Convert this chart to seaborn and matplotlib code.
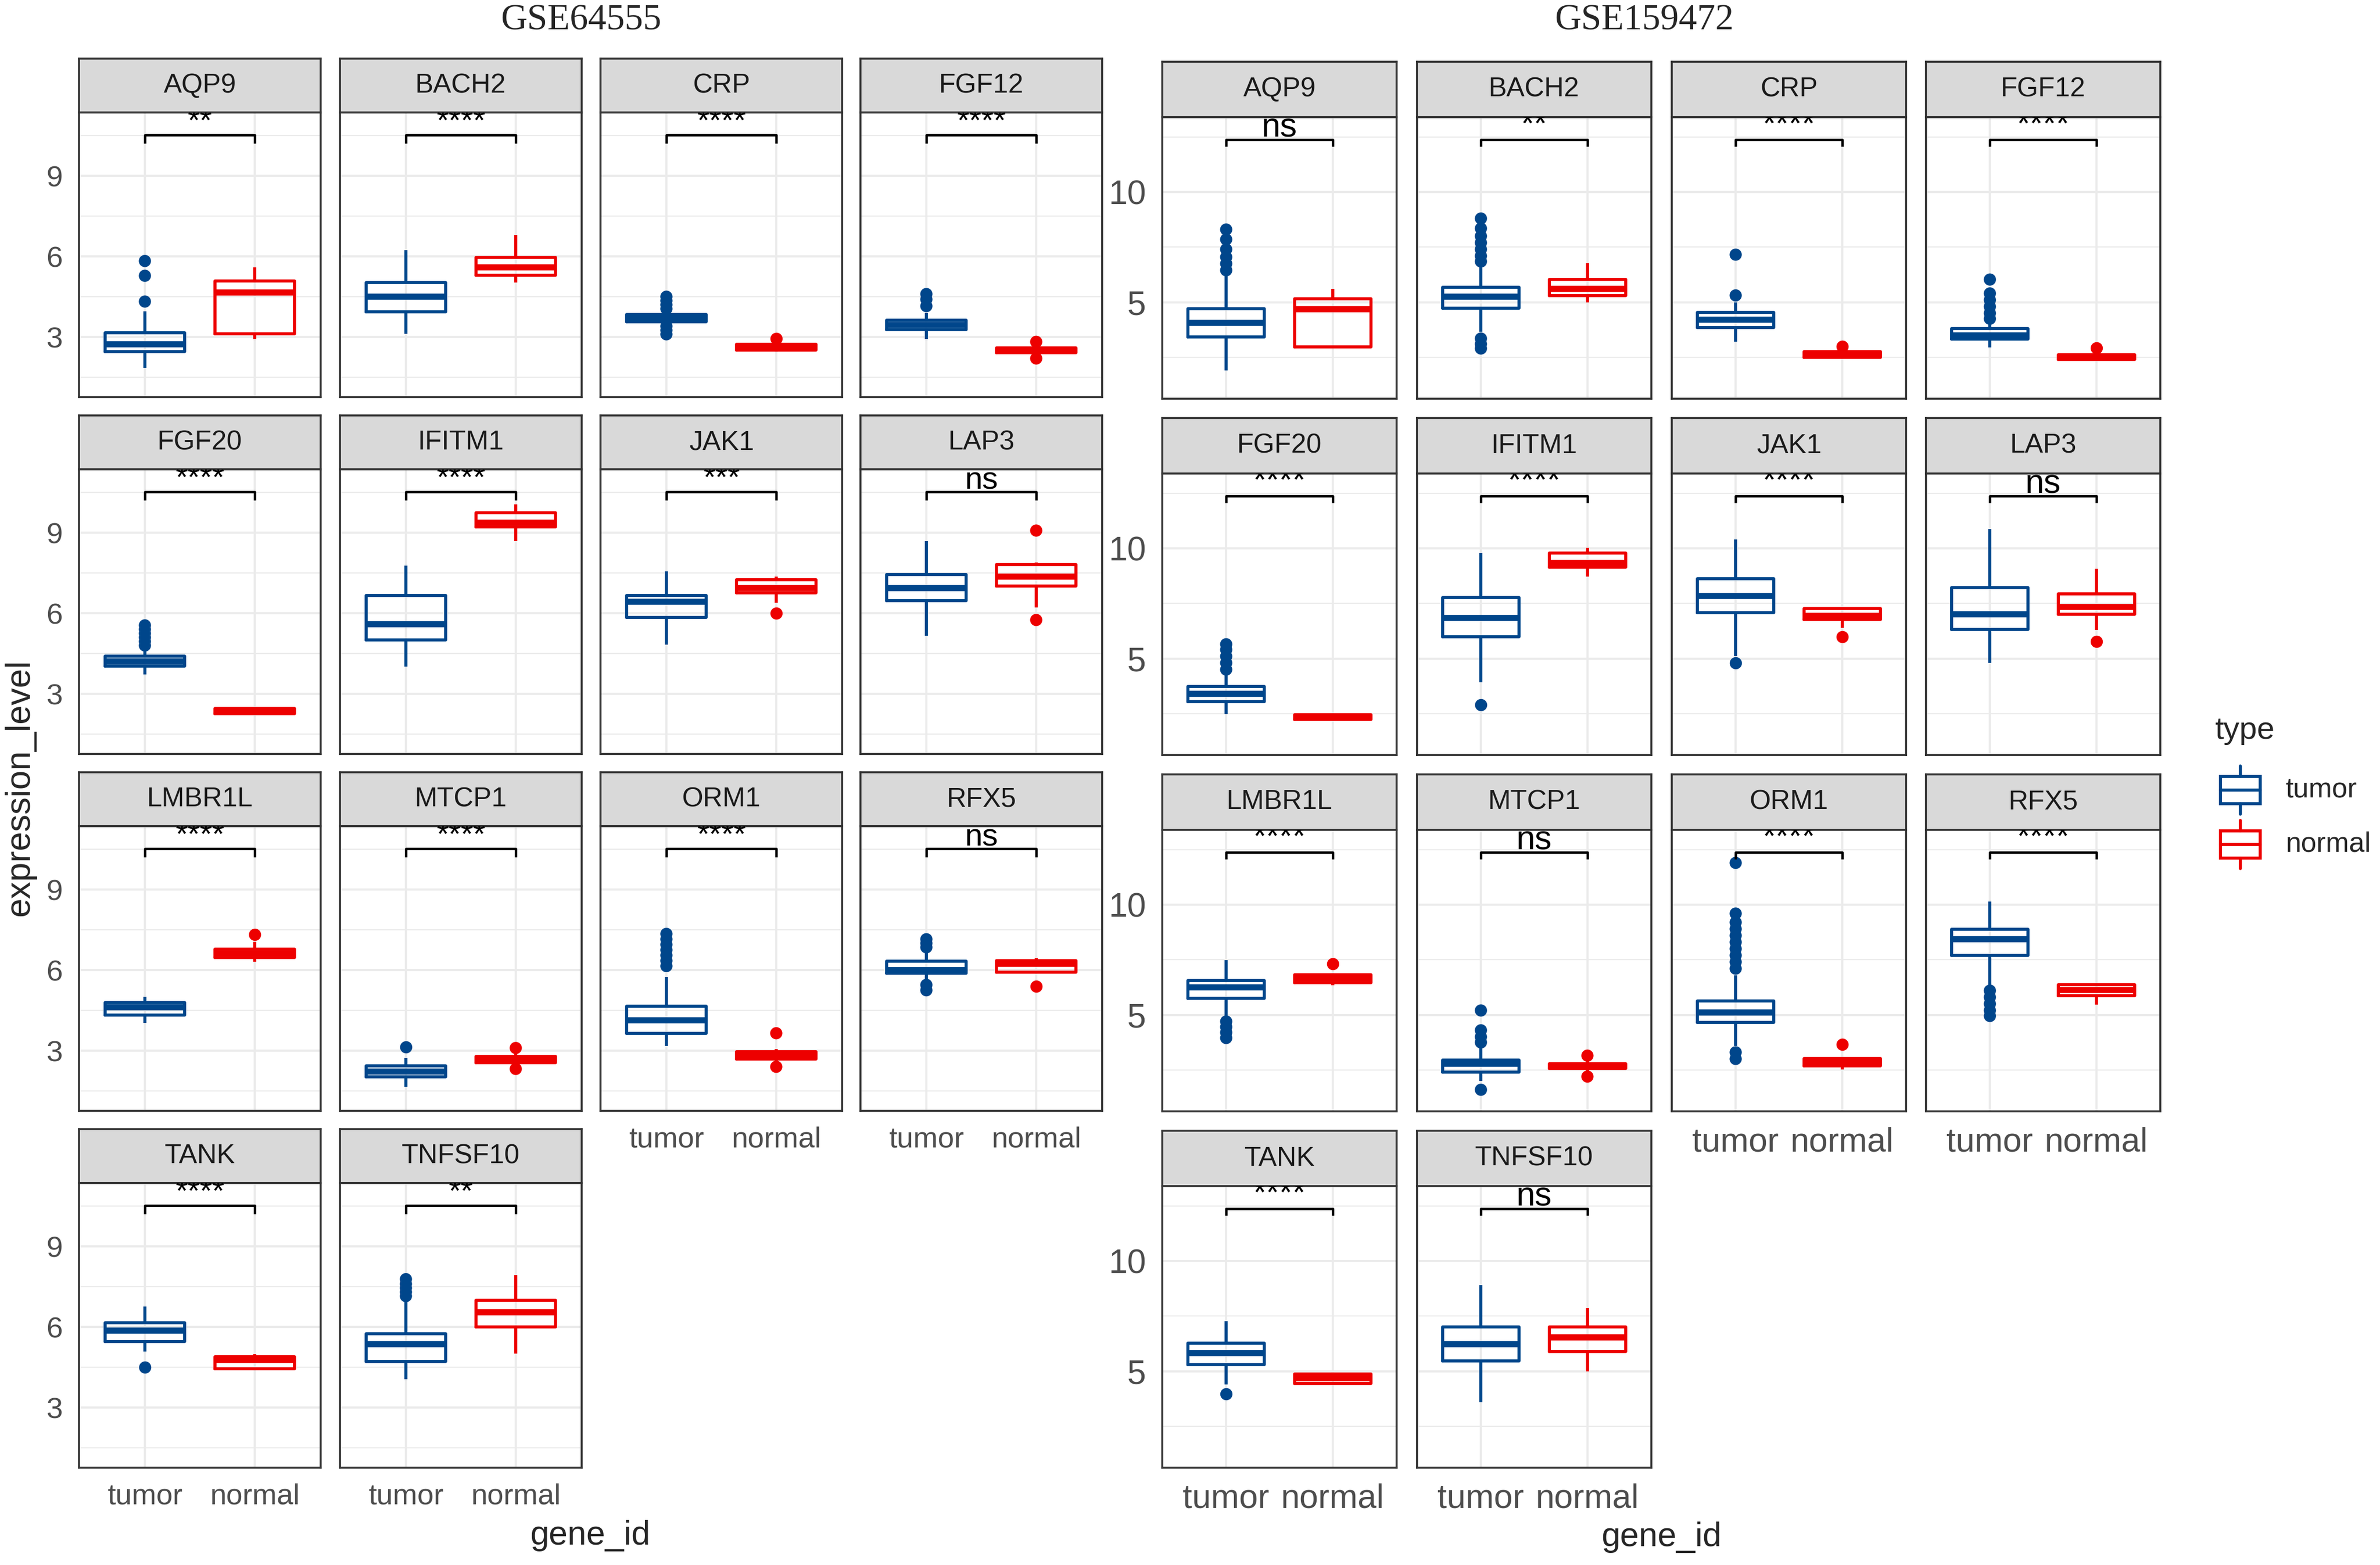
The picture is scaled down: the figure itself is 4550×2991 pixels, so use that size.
import numpy as np
import pandas as pd
import matplotlib.pyplot as plt
import matplotlib.transforms as mtransforms
import seaborn as sns
from matplotlib.patches import Rectangle

# --- data ---
GENES = ['AQP9', 'BACH2', 'CRP', 'FGF12', 'FGF20', 'IFITM1', 'JAK1', 'LAP3',
         'LMBR1L', 'MTCP1', 'ORM1', 'RFX5', 'TANK', 'TNFSF10']
GROUPS = ['tumor', 'normal']
PALETTE = {'tumor': '#00468B', 'normal': '#ED0000'}

# each row: whisker low, Q1, median, Q3, whisker high
gse64555_tumor = [
    [1.85, 2.45, 2.72, 3.15, 3.95],
    [3.12, 3.93, 4.50, 5.02, 6.24],
    [3.45, 3.56, 3.70, 3.84, 3.95],
    [2.92, 3.28, 3.45, 3.63, 3.90],
    [3.73, 4.03, 4.21, 4.41, 4.65],
    [4.01, 5.00, 5.59, 6.66, 7.78],
    [4.83, 5.84, 6.43, 6.66, 7.57],
    [5.17, 6.47, 6.93, 7.44, 8.70],
    [4.03, 4.33, 4.62, 4.79, 5.00],
    [1.65, 2.02, 2.22, 2.43, 2.72],
    [3.17, 3.65, 4.13, 4.66, 5.75],
    [5.60, 5.88, 6.01, 6.33, 6.70],
    [5.08, 5.45, 5.87, 6.16, 6.77],
    [4.05, 4.72, 5.35, 5.75, 6.98],
]
gse64555_normal = [
    [2.92, 3.12, 4.66, 5.08, 5.60],
    [5.02, 5.30, 5.60, 5.97, 6.80],
    [2.45, 2.52, 2.62, 2.72, 2.80],
    [2.32, 2.42, 2.50, 2.60, 2.70],
    [2.22, 2.26, 2.36, 2.46, 2.50],
    [8.70, 9.21, 9.38, 9.74, 10.05],
    [6.39, 6.77, 6.93, 7.25, 7.36],
    [6.22, 7.02, 7.36, 7.82, 7.90],
    [6.31, 6.47, 6.62, 6.79, 7.05],
    [2.45, 2.56, 2.69, 2.78, 2.95],
    [2.55, 2.69, 2.83, 2.97, 3.05],
    [5.88, 5.92, 6.24, 6.36, 6.44],
    [4.40, 4.45, 4.77, 4.89, 4.98],
    [5.00, 6.00, 6.54, 7.00, 7.93],
]
gse64555_tumor_out = [
    [4.32, 5.28, 5.83], [], [4.50, 4.35, 4.20, 4.05, 3.40, 3.25, 3.10],
    [4.60, 4.40, 4.15], [4.80, 4.95, 5.10, 5.25, 5.40, 5.55], [], [], [],
    [], [3.13], [6.15, 6.35, 6.55, 6.75, 6.95, 7.15, 7.35],
    [6.85, 7.00, 7.15, 5.45, 5.25], [4.51], [7.15, 7.30, 7.45, 7.60, 7.78],
]
gse64555_normal_out = [
    [], [], [2.95], [2.82, 2.20], [], [], [6.00], [9.08, 5.75],
    [7.32], [3.10, 2.32], [3.65, 2.40], [5.40], [], [],
]
gse64555_signif = ['**', '****', '****', '****', '****', '****', '***', 'ns',
                   '****', '****', '****', 'ns', '****', '**']

gse159472_tumor = [
    [1.91, 3.43, 4.07, 4.71, 6.19],
    [3.66, 4.72, 5.26, 5.67, 6.65],
    [3.20, 3.85, 4.20, 4.54, 5.00],
    [2.94, 3.33, 3.50, 3.81, 4.07],
    [2.47, 3.04, 3.40, 3.74, 4.28],
    [3.92, 5.98, 6.84, 7.76, 9.79],
    [5.10, 7.09, 7.84, 8.63, 10.41],
    [4.79, 6.32, 7.01, 8.22, 10.88],
    [4.93, 5.76, 6.26, 6.57, 7.48],
    [2.00, 2.40, 2.77, 2.94, 3.49],
    [3.60, 4.66, 5.11, 5.64, 6.79],
    [6.30, 7.69, 8.44, 8.89, 10.14],
    [4.40, 5.31, 5.82, 6.28, 7.26],
    [3.59, 5.46, 6.23, 7.00, 8.90],
]
gse159472_normal = [
    [2.94, 2.97, 4.69, 5.15, 5.60],
    [5.00, 5.29, 5.62, 6.03, 6.77],
    [2.45, 2.50, 2.63, 2.75, 2.82],
    [2.35, 2.40, 2.50, 2.62, 2.72],
    [2.20, 2.24, 2.35, 2.46, 2.50],
    [8.73, 9.15, 9.33, 9.79, 10.03],
    [6.39, 6.77, 6.94, 7.27, 7.30],
    [6.29, 7.01, 7.35, 7.94, 9.07],
    [6.34, 6.47, 6.66, 6.81, 6.90],
    [2.45, 2.56, 2.67, 2.79, 2.95],
    [2.53, 2.69, 2.85, 3.01, 3.10],
    [5.46, 5.88, 6.13, 6.36, 6.41],
    [4.40, 4.44, 4.69, 4.87, 4.95],
    [5.00, 5.90, 6.54, 7.00, 7.87],
]
gse159472_tumor_out = [
    [6.45, 6.75, 7.05, 7.40, 7.85, 8.30],
    [6.85, 7.10, 7.40, 7.70, 8.00, 8.35, 8.80, 3.35, 3.10, 2.90],
    [5.31, 7.16],
    [4.25, 4.50, 4.80, 5.10, 5.40, 6.03],
    [4.50, 4.80, 5.10, 5.40, 5.65],
    [2.89], [4.79], [],
    [4.70, 4.45, 4.20, 3.95],
    [3.75, 4.00, 4.30, 5.20, 1.60],
    [7.10, 7.40, 7.70, 8.00, 8.30, 8.60, 8.90, 9.20, 9.60, 11.90, 3.30, 3.00],
    [6.10, 5.80, 5.50, 5.20, 4.95],
    [3.97], [],
]
gse159472_normal_out = [
    [], [], [3.00], [2.92], [], [], [5.98], [5.77],
    [7.32], [3.15, 2.20], [3.65], [], [], [],
]
gse159472_signif = ['ns', '**', '****', '****', '****', '****', '****', 'ns',
                    '****', 'ns', '****', '****', '****', 'ns']

# --- layout (pixels of the 4550x2991 canvas) ---
W, H = 4550, 2991
DPI = 300

LEFT = dict(cols=[151, 650, 1148, 1645], width=462, row0=112, pitch=682,
            strip_h=103, panel_h=544, ylim=(0.76, 11.36), major=[3, 6, 9],
            minor=[1.5, 4.5, 7.5, 10.5], bracket=10.52, tip=0.30,
            tick_size=13.5, sig_size=14.5)
RIGHT = dict(cols=[2222, 2709, 3196, 3682], width=448, row0=118, pitch=681,
             strip_h=106, panel_h=538, ylim=(0.62, 13.4), major=[5, 10],
             minor=[2.5, 7.5, 12.5], bracket=12.39, tip=0.33,
             tick_size=15.5, sig_size=15.5)

DARK = '#333333'
GRID = '#EBEBEB'


def px_axes(fig, x0, y0, w, h):
    return fig.add_axes([x0 / W, 1 - (y0 + h) / H, w / W, h / H])


def draw_dataset(fig, cfg, tumor, normal, tumor_out, normal_out, signif):
    n = len(GENES)
    for i, gene in enumerate(GENES):
        r, c = divmod(i, 4)
        x0 = cfg['cols'][c]
        y0 = cfg['row0'] + r * cfg['pitch']

        # strip
        ax_s = px_axes(fig, x0, y0, cfg['width'], cfg['strip_h'])
        ax_s.set_facecolor('#D9D9D9')
        ax_s.set_xticks([])
        ax_s.set_yticks([])
        for sp in ax_s.spines.values():
            sp.set_color(DARK)
            sp.set_linewidth(0.9)
        ax_s.text(0.5, 0.5, gene, transform=ax_s.transAxes, ha='center',
                  va='center', fontsize=12.5, color='#1A1A1A')

        # panel
        ax = px_axes(fig, x0, y0 + cfg['strip_h'], cfg['width'], cfg['panel_h'])
        df = pd.DataFrame({'type': ['tumor'] * 5 + ['normal'] * 5,
                           'value': tumor[i] + normal[i]})
        sns.boxplot(data=df, x='type', y='value', hue='type', order=GROUPS,
                    hue_order=GROUPS, palette=PALETTE, fill=False,
                    whis=(0, 100), width=0.72, linewidth=1.4, showcaps=False,
                    showfliers=False, medianprops={'linewidth': 2.8},
                    legend=False, ax=ax)
        out = pd.DataFrame({'type': ['tumor'] * len(tumor_out[i]) + ['normal'] * len(normal_out[i]),
                            'value': tumor_out[i] + normal_out[i]})
        if len(out):
            sns.stripplot(data=out, x='type', y='value', hue='type', order=GROUPS,
                          hue_order=GROUPS, palette=PALETTE, jitter=False,
                          size=5.6, linewidth=0, legend=False, ax=ax, zorder=3)

        # significance bracket (labels sit on the bracket and get clipped by the panel)
        yb, tip = cfg['bracket'], cfg['tip']
        ax.plot([0, 0, 1, 1], [yb - tip, yb, yb, yb - tip], color='black',
                lw=1.1, solid_capstyle='butt', zorder=4)
        lift_pt = 1.3 if signif[i] == 'ns' else 2.2
        lift = mtransforms.offset_copy(ax.transData, fig=fig, y=lift_pt, units='points')
        ax.text(0.5, yb, signif[i], ha='center', va='baseline', transform=lift,
                fontsize=cfg['sig_size'], color='black', clip_on=True, zorder=4)

        ax.set_xlim(-0.6, 1.6)
        ax.set_ylim(*cfg['ylim'])
        ax.set_yticks(cfg['major'])
        ax.set_yticks(cfg['minor'], minor=True)
        ax.set_xticks([0, 1])
        ax.set_axisbelow(True)
        ax.grid(which='major', axis='both', color=GRID, lw=1.0)
        ax.grid(which='minor', axis='y', color=GRID, lw=0.55)
        ax.set_xlabel('')
        ax.set_ylabel('')
        for sp in ax.spines.values():
            sp.set_color(DARK)
            sp.set_linewidth(0.9)

        bottom = i + 4 >= n
        ax.tick_params(axis='both', which='minor', length=0)
        if c == 0:
            ax.set_yticklabels([str(v) for v in cfg['major']])
            ax.tick_params(axis='y', which='major', length=4, width=1.1,
                           color=DARK, labelsize=cfg['tick_size'],
                           labelcolor='#4D4D4D', pad=3.5)
        else:
            ax.tick_params(axis='y', which='major', length=0, labelleft=False)
        if bottom:
            ax.set_xticklabels(GROUPS)
            ax.tick_params(axis='x', which='major', length=4, width=1.1,
                           color=DARK, labelsize=cfg['tick_size'],
                           labelcolor='#4D4D4D', pad=3)
        else:
            ax.tick_params(axis='x', which='major', length=0, labelbottom=False)


sns.set_theme(style='white')
plt.rcParams['font.family'] = ['Liberation Sans', 'DejaVu Sans']

fig = plt.figure(figsize=(W / DPI, H / DPI), dpi=DPI)
fig.patch.set_facecolor('white')

draw_dataset(fig, LEFT, gse64555_tumor, gse64555_normal,
             gse64555_tumor_out, gse64555_normal_out, gse64555_signif)
draw_dataset(fig, RIGHT, gse159472_tumor, gse159472_normal,
             gse159472_tumor_out, gse159472_normal_out, gse159472_signif)

# titles and axis titles
fig.text(1111 / W, 1 - 40 / H, 'GSE64555', ha='center', va='center',
         fontsize=16.8, family=['Liberation Serif', 'DejaVu Serif'])
fig.text(3143 / W, 1 - 40 / H, 'GSE159472', ha='center', va='center',
         fontsize=16.8, family=['Liberation Serif', 'DejaVu Serif'])
fig.text(38 / W, 1 - 1505 / H, 'expression_level', rotation=90, ha='center',
         va='center', fontsize=15.8)
fig.text(1128 / W, 1 - 2935 / H, 'gene_id', ha='center', va='center', fontsize=15.5)
fig.text(3176 / W, 1 - 2938 / H, 'gene_id', ha='center', va='center', fontsize=15.5)

# legend
ax_leg = fig.add_axes([0, 0, 1, 1], zorder=5)
ax_leg.set_xlim(0, W)
ax_leg.set_ylim(H, 0)
ax_leg.axis('off')
ax_leg.patch.set_alpha(0)
ax_leg.text(4234, 1397, 'type', ha='left', va='center', fontsize=14.5)
for k, grp in enumerate(GROUPS):
    cy = 1510 + k * 104
    col = PALETTE[grp]
    ax_leg.plot([4283, 4283], [cy - 46, cy - 26], color=col, lw=1.4)
    ax_leg.plot([4283, 4283], [cy + 26, cy + 46], color=col, lw=1.4)
    ax_leg.add_patch(Rectangle((4245, cy - 26), 76, 52, fill=False,
                               edgecolor=col, lw=1.4))
    ax_leg.plot([4245, 4321], [cy, cy], color=col, lw=1.4)
    ax_leg.text(4369, cy, grp, ha='left', va='center', fontsize=12.8)

fig.savefig('out.png', dpi=DPI, facecolor='white')
